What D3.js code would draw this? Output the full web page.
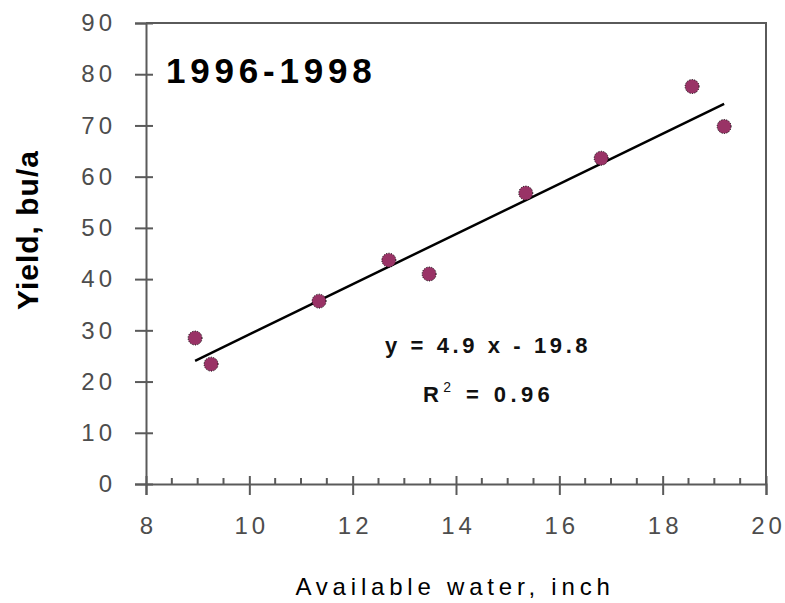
<!DOCTYPE html>
<html>
<head>
<meta charset="utf-8">
<script src="https://cdn.jsdelivr.net/npm/d3@7"></script>
<style>
  body { margin: 0; background: #fff; }
  svg { display: block; font-family: "Liberation Sans", Arial, sans-serif; }
  .tick text { fill: #4d4d4d; font-size: 24px; letter-spacing: 4px; }
  .domain, .tick line { stroke: #5a5a5a; stroke-width: 2; }
</style>
</head>
<body>
<div class="chart"></div>
<script>
// data
var water = [8.95, 9.26, 11.35, 12.70, 13.48, 15.35, 16.81, 18.57, 19.19];
var yieldBu = [28.5, 23.4, 35.7, 43.7, 41.0, 56.8, 63.6, 77.6, 69.8];
var xTicks = [8, 10, 12, 14, 16, 18, 20];
var yTicks = [0, 10, 20, 30, 40, 50, 60, 70, 80, 90];
var trendSlope = 4.9;
var trendIntercept = -19.8;

var svgWidth = 785;
var svgHeight = 603;

var margin = { top: 23, right: 19, bottom: 119, left: 146 };
var width = svgWidth - margin.left - margin.right;
var height = svgHeight - margin.top - margin.bottom;

var svg = d3.select(".chart")
  .append("svg")
  .attr("width", svgWidth)
  .attr("height", svgHeight);

var chartGroup = svg.append("g")
  .attr("transform", `translate(${margin.left}, ${margin.top})`);

var xScale = d3.scaleLinear().domain([8, 20]).range([0, width]);
var yScale = d3.scaleLinear().domain([0, 90]).range([height, 0]);

// plot border (top and right)
chartGroup.append("path")
  .attr("d", `M0,0H${width}V${height}`)
  .attr("fill", "none")
  .attr("stroke", "#5a5a5a")
  .attr("stroke-width", 2);

// y axis
var yAxis = chartGroup.append("g")
  .call(d3.axisLeft(yScale).tickValues(yTicks).tickSizeOuter(0).tickSize(11).tickPadding(0));
yAxis.selectAll(".tick line").attr("x1", 7).attr("x2", -11);
yAxis.selectAll(".tick text").attr("x", -30);

// x axis
var xAxis = chartGroup.append("g")
  .attr("transform", `translate(0, ${height})`)
  .call(d3.axisBottom(xScale).tickValues(xTicks).tickSizeOuter(0).tickSize(11).tickPadding(0));
xAxis.selectAll(".tick line").attr("y1", -8).attr("y2", 11);
xAxis.selectAll(".tick text").attr("y", 33).attr("dx", "2px");

// minor x ticks
var minorTicks = d3.range(8.5, 20, 0.5).filter(d => d % 2 !== 0);
xAxis.selectAll(".minor")
  .data(minorTicks)
  .enter()
  .append("line")
  .attr("class", "minor")
  .attr("x1", d => xScale(d))
  .attr("x2", d => xScale(d))
  .attr("y1", 0)
  .attr("y2", -6)
  .attr("stroke", "#5a5a5a")
  .attr("stroke-width", 2);

// trend line
var xExt = d3.extent(water);
var trendLine = d3.line()
  .x(d => xScale(d))
  .y(d => yScale(trendSlope * d + trendIntercept));
chartGroup.append("path")
  .datum(xExt)
  .attr("d", trendLine)
  .attr("fill", "none")
  .attr("stroke", "#000")
  .attr("stroke-width", 2.5);

// points
chartGroup.selectAll("circle")
  .data(water)
  .enter()
  .append("circle")
  .attr("cx", d => xScale(d))
  .attr("cy", (d, i) => yScale(yieldBu[i]))
  .attr("r", 7)
  .attr("fill", "#993366")
  .attr("stroke", "#000")
  .attr("stroke-width", 1)
  .attr("stroke-dasharray", "1,1.5");

// title
svg.append("text")
  .attr("x", 166)
  .attr("y", 83)
  .attr("font-size", "35px")
  .attr("font-weight", "bold")
  .attr("letter-spacing", "4.8px")
  .attr("fill", "#000")
  .text("1996-1998");

// equation
svg.append("text")
  .attr("x", 385)
  .attr("y", 353)
  .attr("font-size", "22px")
  .attr("font-weight", "bold")
  .attr("letter-spacing", "3.6px")
  .attr("fill", "#111")
  .text("y = 4.9 x - 19.8");

var r2 = svg.append("text")
  .attr("x", 423)
  .attr("y", 402)
  .attr("font-size", "22px")
  .attr("font-weight", "bold")
  .attr("letter-spacing", "4.4px")
  .attr("fill", "#111");
r2.append("tspan").text("R");
r2.append("tspan").attr("font-size", "14px").attr("font-weight", "normal").attr("dy", -10).text("2");
r2.append("tspan").attr("dy", 10).text(" = 0.96");

// axis labels
svg.append("text")
  .attr("transform", "rotate(-90)")
  .attr("x", -230)
  .attr("y", 38)
  .attr("text-anchor", "middle")
  .attr("font-size", "30px")
  .attr("font-weight", "bold")
  .attr("letter-spacing", "1px")
  .attr("fill", "#000")
  .text("Yield, bu/a");

svg.append("text")
  .attr("x", 455)
  .attr("y", 595)
  .attr("text-anchor", "middle")
  .attr("font-size", "24px")
  .attr("letter-spacing", "4.8px")
  .attr("fill", "#000")
  .text("Available water, inch");
</script>
</body>
</html>
